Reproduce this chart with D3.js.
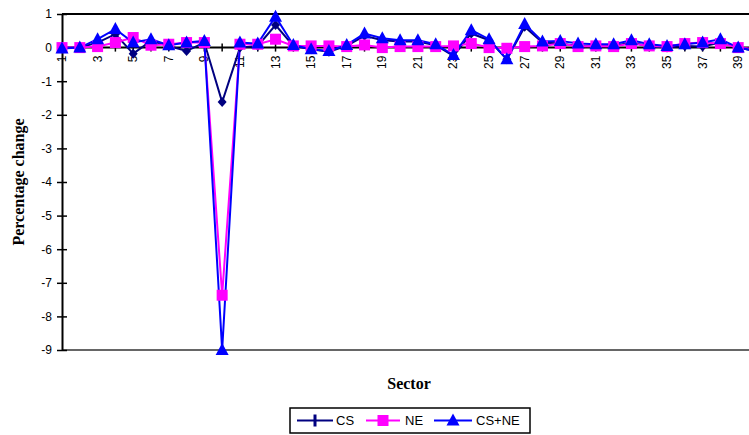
<!DOCTYPE html>
<html><head><meta charset="utf-8">
<script src="https://cdn.jsdelivr.net/npm/d3@7"></script>
<style>body{margin:0;background:#fff}svg{display:block}</style>
</head><body>
<svg id="c" width="749" height="435"></svg>
<script>
const sectors = d3.range(1, 41);
const cs   = [0,0,0.15,0.4,-0.18,0.2,0.05,-0.1,0.15,-1.62,0,0.05,0.67,0.05,-0.05,-0.12,0.05,0.35,0.22,0.18,0.18,0.07,-0.25,0.42,0.22,-0.35,0.62,0.15,0.12,0.05,0.03,0.05,0.15,0.03,0,0.05,0.03,0.15,0,-0.1];
const ne   = [0,0,0.03,0.15,0.3,0.07,0.1,0.15,0.15,-7.37,0.1,0.1,0.25,0.05,0.05,0.05,0.03,0.08,0,0.03,0.03,0.03,0.05,0.12,0,-0.02,0.03,0.05,0.12,0.03,0.05,0.03,0.12,0.05,0.03,0.12,0.15,0.12,0,-0.05];
const csne = [-0.03,0,0.25,0.55,0.15,0.25,0.07,0.15,0.2,-9,0.15,0.12,0.92,0.08,-0.05,-0.1,0.08,0.42,0.28,0.22,0.22,0.1,-0.22,0.52,0.25,-0.35,0.7,0.18,0.2,0.12,0.1,0.1,0.22,0.1,0.05,0.1,0.15,0.25,0,-0.1];
const yTicks = d3.range(-9, 2);
const xLabels = d3.range(1, 41, 2);
const seriesNames = ["CS", "NE", "CS+NE"];

const svg = d3.select("#c");
const x = d3.scaleLinear().domain([1, 40]).range([62, 756]);
const y = d3.scaleLinear().domain([-9, 1]).range([350, 14]);

// plot border lines (top, bottom)
svg.append("line").attr("x1",62).attr("x2",749).attr("y1",y(1)).attr("y2",y(1)).attr("stroke","#000").attr("stroke-width",2);
svg.append("line").attr("x1",62).attr("x2",749).attr("y1",y(-9)).attr("y2",y(-9)).attr("stroke","#333").attr("stroke-width",1.5);

// Y axis
const yAxis = d3.axisLeft(y).tickValues(yTicks).tickSize(0).tickFormat(d => String(d));
const gy = svg.append("g").attr("transform","translate(62,0)").call(yAxis);
gy.select(".domain").attr("stroke","#000").attr("stroke-width",2);
gy.selectAll(".tick text").attr("x",-10).attr("font-family","'Liberation Sans', Arial, sans-serif").attr("font-size",12).attr("fill","#000");
gy.selectAll(".tick").append("line").attr("x1",-5).attr("x2",5).attr("stroke","#000").attr("stroke-width",1.5);

// X axis at zero
const gx = svg.append("g").attr("transform",`translate(0,${y(0)})`);
gx.append("line").attr("x1",62).attr("x2",749).attr("stroke","#000").attr("stroke-width",2);
gx.selectAll("line.t").data(sectors).join("line").attr("class","t")
  .attr("x1",d=>x(d)).attr("x2",d=>x(d)).attr("y1",-4).attr("y2",4).attr("stroke","#000").attr("stroke-width",1.5);
gx.selectAll("text").data(xLabels).join("text")
  .attr("transform",d=>`translate(${x(d)+4},8) rotate(-90)`)
  .attr("text-anchor","end")
  .attr("font-family","'Liberation Sans', Arial, sans-serif").attr("font-size",12)
  .text(d=>d);

// series
const data = [cs, ne, csne];
const colors = ["#000080", "#FF00FF", "#0000FF"];
const line = d3.line().x((d,i)=>x(sectors[i])).y(d=>y(d));
const plot = svg.append("g");

function marker(g, k, cx, cy, legend) {
  const c = colors[k];
  if (k === 0) {
    if (legend) {
      g.append("rect").attr("x",cx-1.5).attr("y",cy-6).attr("width",3).attr("height",12).attr("fill",c);
    } else {
      g.append("path").attr("d",`M${cx},${cy-5}L${cx+4.5},${cy}L${cx},${cy+5}L${cx-4.5},${cy}Z`).attr("fill",c);
    }
  } else if (k === 1) {
    g.append("rect").attr("x",cx-5.5).attr("y",cy-5.5).attr("width",11).attr("height",11).attr("fill",c);
  } else {
    g.append("path").attr("d",`M${cx},${cy-7}L${cx+6.5},${cy+5}L${cx-6.5},${cy+5}Z`).attr("fill",c);
  }
}

data.forEach((vals,k)=>{
  plot.append("path").datum(vals).attr("d",line).attr("fill","none").attr("stroke",colors[k]).attr("stroke-width",2);
});
data.forEach((vals,k)=>{
  vals.forEach((v,i)=>marker(plot, k, x(sectors[i]), y(v), false));
});

// axis titles
svg.append("text").attr("x",409).attr("y",389).attr("text-anchor","middle")
  .attr("font-family","'Liberation Serif', 'Times New Roman', serif").attr("font-weight","bold").attr("font-size",16).text("Sector");
svg.append("text").attr("transform","translate(24,182) rotate(-90)").attr("text-anchor","middle")
  .attr("font-family","'Liberation Serif', 'Times New Roman', serif").attr("font-weight","bold").attr("font-size",16).text("Percentage change");

// legend
const lg = svg.append("g");
lg.append("rect").attr("x",290).attr("y",408).attr("width",240).attr("height",25).attr("fill","#fff").attr("stroke","#000").attr("stroke-width",1.5);
const items = [{x1:297,x2:333,t:336},{x1:366,x2:400,t:405},{x1:434,x2:472,t:476}];
items.forEach((it,k)=>{
  lg.append("line").attr("x1",it.x1).attr("x2",it.x2).attr("y1",420.5).attr("y2",420.5).attr("stroke",colors[k]).attr("stroke-width",2);
  marker(lg, k, (it.x1+it.x2)/2, 420.5, true);
  lg.append("text").attr("x",it.t).attr("y",425).attr("font-family","'Liberation Sans', Arial, sans-serif").attr("font-size",13).text(seriesNames[k]);
});
</script>
</body></html>
